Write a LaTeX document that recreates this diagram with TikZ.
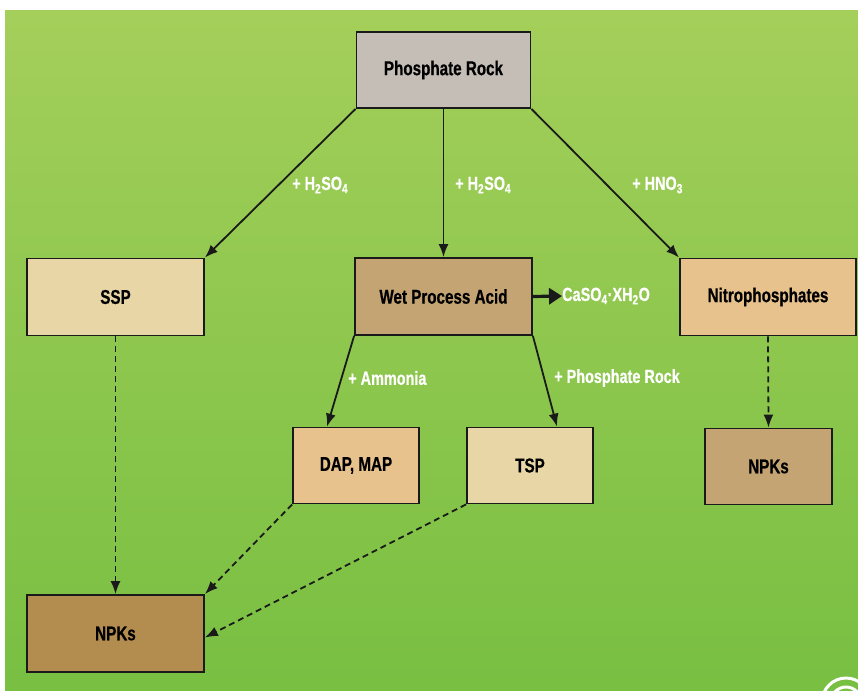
\documentclass[tikz,border=0pt]{standalone}
\usepackage{fontspec}
\setmainfont[FakeStretch=0.76, BoldFeatures={FakeBold=0.6}]{Liberation Sans}
\usepackage{tikz}
\usetikzlibrary{arrows.meta}
\usepackage{xcolor}
\definecolor{rockfill}{HTML}{C5BEB6}
\definecolor{palefill}{HTML}{E9D6A6}
\definecolor{tanfill}{HTML}{C4A473}
\definecolor{peachfill}{HTML}{E7C28D}
\definecolor{brownfill}{HTML}{B38D4F}
\definecolor{greentop}{HTML}{A4CF5A}
\definecolor{greenbot}{HTML}{78BF42}
\definecolor{inkline}{HTML}{1A1A1A}

\begin{document}
\begin{tikzpicture}[x=1pt,y=-1pt,
  box/.style={draw=inkline, line width=1.8pt, rectangle, inner sep=0pt,
    minimum width=177pt, minimum height=77pt,
    font=\fontsize{20}{24}\selectfont\bfseries},
  smallbox/.style={box, minimum width=126pt, minimum height=76pt},
  lbl/.style={anchor=west, inner sep=0pt, text=white,
    font=\fontsize{19}{23}\selectfont\bfseries},
  flow/.style={draw=inkline, line width=1.8pt, -{Latex[length=13pt,width=10pt]}},
  dflow/.style={flow, dash pattern=on 6pt off 4pt}]

\useasboundingbox (0,0) rectangle (858,690);
\fill[white] (0,0) rectangle (858,690);
\shade[top color=greentop, bottom color=greenbot] (5,11) rectangle (858,690);

\node[box, fill=rockfill, minimum width=174pt, minimum height=76pt] (rock) at (443.5,70) {Phosphate Rock};
\node[box, fill=palefill] (ssp) at (115.5,297) {SSP};
\node[box, fill=tanfill] (wpa) at (443.5,296.5) {Wet Process Acid};
\node[box, fill=peachfill, minimum width=176pt] (nitro) at (768,297) {Nitrophosphates};
\node[smallbox, fill=peachfill] (dap) at (356,465.5) {DAP, MAP};
\node[smallbox, fill=palefill] (tsp) at (530,465.5) {TSP};
\node[smallbox, fill=tanfill, minimum width=127pt] (npkright) at (768.5,466.5) {NPKs};
\node[box, fill=brownfill] (npkleft) at (115.5,633.5) {NPKs};

\node[lbl] (acidleft) at (292,185) {+ H\textsubscript{2}SO\textsubscript{4}};
\node[lbl] (acidmid) at (455,185) {+ H\textsubscript{2}SO\textsubscript{4}};
\node[lbl] (nitric) at (632,185) {+ HNO\textsubscript{3}};
\node[lbl] (gypsum) at (562,296) {CaSO\textsubscript{4}·XH\textsubscript{2}O};
\node[lbl] (ammonia) at (348,378) {+ Ammonia};
\node[lbl] (addrock) at (554,378) {+ Phosphate Rock};

\draw[flow] (rock.south west) -- (ssp.north east);
\draw[flow] (rock.south) -- (wpa.north);
\draw[flow] (rock.south east) -- (nitro.north west);
\draw[draw=inkline, line width=3.2pt, -{Triangle[length=13pt,width=16pt]}] (wpa.east) -- (gypsum.west);
\draw[flow] (wpa.south west) -- ([xshift=-29pt]dap.north);
\draw[flow] (wpa.south east) -- ([xshift=27pt]tsp.north);

\draw[dflow] (ssp.south) -- (npkleft.north);
\draw[dflow] (nitro.south) -- (npkright.north);
\draw[dflow] (dap.south west) -- (npkleft.north east);
\draw[dflow] (tsp.south west) -- ([yshift=-4pt]npkleft.east);

\draw[white, line width=3pt] (846,702) circle (24pt);
\draw[white, line width=3pt] (846,702) circle (15pt);
\end{tikzpicture}
\end{document}
